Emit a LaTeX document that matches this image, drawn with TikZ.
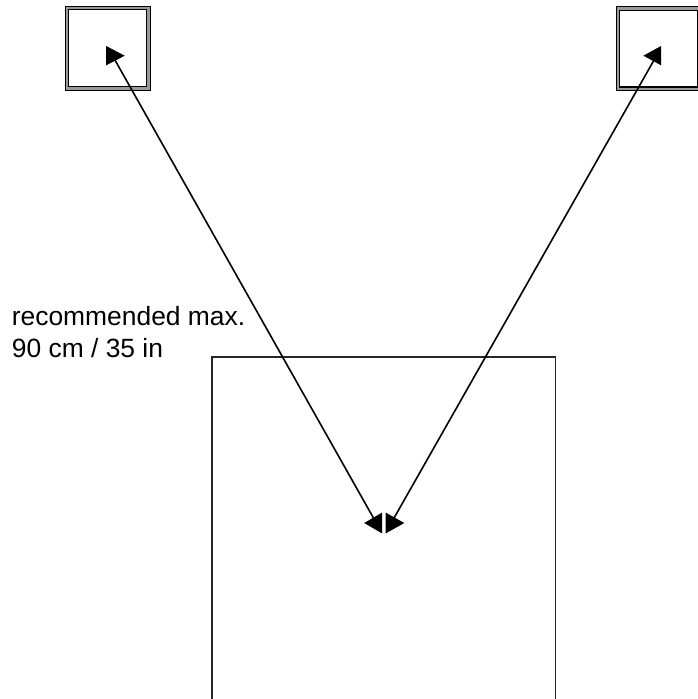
\documentclass[tikz,border=0pt]{standalone}
\usepackage{fontspec}
\setmainfont{Liberation Sans}
\begin{document}
\begin{tikzpicture}[x=1pt,y=-1pt,
  spk/.style={draw=black, line width=1.1pt, double=black!40, double distance=2.6pt,
              minimum width=81.7pt, minimum height=80.4pt, inner sep=0pt, fill=white},
  area/.style={draw=black!85, line width=1.6pt, minimum width=343.5pt, minimum height=420pt, inner sep=0pt},
  conn/.style={draw=black, line width=1.6pt},
  head/.style={fill=black},
  lbl/.style={font=\fontsize{26.4}{32.5}\selectfont, align=left, anchor=base west, inner sep=0pt}
]
\useasboundingbox (0,0) rectangle (698,699);
\clip (0,0) rectangle (698,699);
\fill[white] (0,0) rectangle (698,699);

% speakers
\node[spk] (spkL) at (107.85,48.2) {};
\node[spk] (spkR) at (658.85,48.6) {};

% listening area
\node[area] (screen) at (383.75,567) {};

% label (base anchor of a multi-line node is the last line's baseline)
\node[lbl] (note) at (11.7,357.5) {recommended max.\\90 cm / 35 in};

% connector end points
\coordinate (aL1) at (112.5,55.7);
\coordinate (aL2) at (376.3,523);
\coordinate (aR1) at (656.5,55.7);
\coordinate (aR2) at (391.2,523);

% connectors
\draw[conn] (aL1) -- (aL2);
\draw[conn] (aR1) -- (aR2);

% arrowheads (horizontal markers)
\fill[head] (106,45.9) -- (124.7,55.7) -- (106,65.4) -- cycle;
\fill[head] (661.2,45.9) -- (643.4,55.7) -- (661.2,65.4) -- cycle;
\fill[head] (382.2,512.5) -- (364.2,523) -- (382.2,533.5) -- cycle;
\fill[head] (385.6,512.5) -- (404.3,523) -- (385.6,533.5) -- cycle;
\end{tikzpicture}
\end{document}
